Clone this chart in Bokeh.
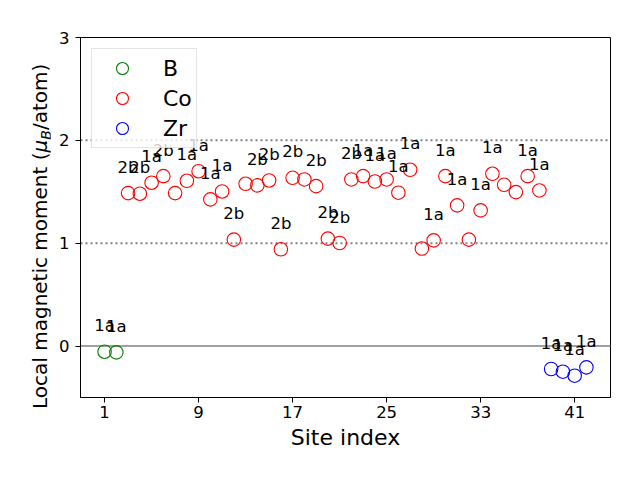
from bokeh.plotting import figure
from bokeh.models import Range1d, FixedTicker, Span, ColumnDataSource, Div
from bokeh.layouts import row
from bokeh.core.properties import value
from bokeh.embed import file_html
from bokeh.resources import INLINE

# ---- data ----
b_sites = [1, 2]
b_moments = [-0.055, -0.061]
b_labels = ["1a", "1a"]

co_sites = [3, 4, 5, 6, 7, 8, 9, 10, 11, 12, 13, 14, 15, 16, 17, 18, 19, 20,
            21, 22, 23, 24, 25, 26, 27, 28, 29, 30, 31, 32, 33, 34, 35, 36, 37, 38]
co_moments = [1.487, 1.481, 1.588, 1.652, 1.487, 1.607, 1.700, 1.426, 1.503,
              1.035, 1.578, 1.562, 1.610, 0.941, 1.636, 1.620, 1.555, 1.045,
              1.002, 1.620, 1.652, 1.600, 1.620, 1.491, 1.714, 0.948, 1.028,
              1.652, 1.368, 1.035, 1.319, 1.675, 1.568, 1.497, 1.652, 1.513]
co_labels = ["2b", "2b", "1a", "2b", "", "1a", "1a", "1a", "1a",
             "2b", "", "2b", "2b", "2b", "2b", "", "2b", "2b",
             "2b", "2b", "1a", "1a", "1a", "1a", "1a", "", "1a",
             "1a", "1a", "", "1a", "1a", "", "", "1a", "1a"]

zr_sites = [39, 40, 41, 42]
zr_moments = [-0.223, -0.249, -0.288, -0.207]
zr_labels = ["1a", "1a", "1a", "1a"]

x_ticks = [1, 9, 17, 25, 33, 41]
y_ticks = [0, 1, 2, 3]
ref_dotted = [1, 2]
ref_solid = [0]

FONT = "DejaVu Sans"
LEFT_W = 50

p = figure(frame_width=530, frame_height=360,
           min_border_left=80 - LEFT_W, min_border_right=30,
           min_border_top=37, min_border_bottom=83,
           x_range=Range1d(-1.05, 44.05), y_range=Range1d(-0.5, 3.0),
           output_backend="svg", toolbar_location=None,
           background_fill_color="white", border_fill_color="white")

p.xgrid.visible = False
p.ygrid.visible = False
p.outline_line_color = "black"
p.outline_line_width = 1

for ax in (p.xaxis[0], p.yaxis[0]):
    ax.major_tick_out = 5
    ax.major_tick_in = 0
    ax.minor_tick_line_color = None
    ax.axis_line_color = "black"
    ax.axis_line_width = 1
    ax.major_tick_line_color = "black"
    ax.major_tick_line_width = 1
    ax.major_label_text_font = FONT
    ax.major_label_text_font_size = "16.5px"
    ax.major_label_text_color = "black"

p.xaxis.ticker = FixedTicker(ticks=x_ticks)
p.yaxis.ticker = FixedTicker(ticks=y_ticks)
p.xaxis.major_label_standoff = 3
p.yaxis.major_label_standoff = 6

p.xaxis.axis_label = "Site index"
p.xaxis.axis_label_text_font = FONT
p.xaxis.axis_label_text_font_size = "22px"
p.xaxis.axis_label_text_font_style = "normal"
p.xaxis.axis_label_text_color = "black"
p.xaxis.axis_label_standoff = 4

# reference lines
for yv in ref_dotted:
    p.add_layout(Span(location=yv, dimension="width", line_color="gray",
                      line_width=2, line_dash="2 3", level="underlay"))
for yv in ref_solid:
    p.add_layout(Span(location=yv, dimension="width", line_color="gray",
                      line_width=1.5, level="underlay"))

series = [
    ("B", b_sites, b_moments, b_labels, "green"),
    ("Co", co_sites, co_moments, co_labels, "red"),
    ("Zr", zr_sites, zr_moments, zr_labels, "blue"),
]
for name, xs, ys, labs, col in series:
    src = ColumnDataSource(dict(x=xs, y=ys, lab=labs))
    p.scatter("x", "y", source=src, marker="circle", size=13.5,
              fill_color=None, line_color=col, line_width=1.1,
              legend_label=name)
    p.text("x", "y", text="lab", source=src, text_align="center",
           text_baseline="middle", y_offset=-26,
           text_font=value(FONT), text_font_size="16.5px", text_color="black")

lg = p.legend[0]
lg.location = "top_left"
lg.margin = 11
lg.padding = 4
lg.spacing = 0
lg.glyph_width = 52
lg.glyph_height = 30
lg.label_height = 30
lg.label_standoff = 15
lg.label_text_font = FONT
lg.label_text_font_size = "22px"
lg.label_text_color = "black"
lg.border_line_color = "#cccccc"
lg.border_line_width = 1
lg.background_fill_alpha = 0.8

# rotated y-axis title with subscript (HTML text)
ylabel_html = (
    '<div style="width:400px; white-space:nowrap; font-family:\'DejaVu Sans\';'
    ' font-size:20px; line-height:20px; color:black; transform-origin:0 0;'
    ' transform: translate(30px, 409px) rotate(-90deg);">'
    'Local magnetic moment (<i>\u03bc</i>'
    '<i style="font-size:14px; position:relative; top:4px;">B</i>/atom)</div>'
)
ylab = Div(text=ylabel_html, width=LEFT_W, height=480,
           styles={"overflow": "visible", "margin": "0", "padding": "0"})

layout = row(ylab, p)
open("out.html", "w").write(file_html(layout, INLINE))
